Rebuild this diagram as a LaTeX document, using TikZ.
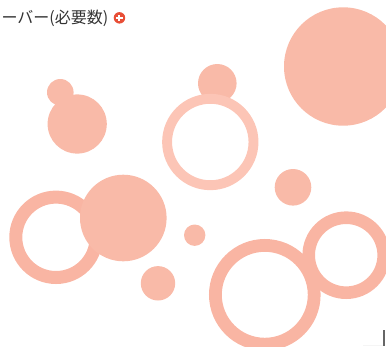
\documentclass[tikz,border=0pt]{standalone}
\usepackage{fontspec}
\usepackage{xcolor}
\usetikzlibrary{positioning}
\newfontfamily\jpfont{Noto Sans CJK JP}
\definecolor{bubblefill}{HTML}{F9BAA8}
\definecolor{ringlight}{HTML}{FCC5B6}
\definecolor{ringdark}{HTML}{F9B5A3}
\definecolor{plusred}{HTML}{E84E36}
\definecolor{labelgray}{HTML}{333333}
\tikzset{
	bubble/.style={fill=bubblefill, draw=none},
	ring/.style={draw=ringdark, line width=#1},
	lightring/.style={draw=ringlight, line width=#1},
	label/.style={font=\jpfont\fontsize{16}{17}\selectfont, text=labelgray, inner sep=0pt}
}

\begin{document}
\begin{tikzpicture}[x=1pt, y=-1pt]
	\useasboundingbox (0,0) rectangle (386,346);
	\node[label, anchor=base east] (title) at (108.5,23) {ーバー(必要数)};
	\node[circle, fill=plusred, minimum size=11.5pt, inner sep=0pt, right=5pt of title.east] (plus) {};
	\draw[white, line width=2pt] ([xshift=-3.3pt]plus.center) -- ([xshift=3.3pt]plus.center);
	\draw[white, line width=2pt] ([yshift=-3.3pt]plus.center) -- ([yshift=3.3pt]plus.center);
	\fill[bubble] (343.2,66.5) circle (59.2);
	\fill[bubble] (60.3,92.3) circle (13.3);
	\fill[bubble] (77.2,124) circle (29.6);
	\fill[bubble] (217.3,83.3) circle (19.3);
	\draw[lightring=9.9pt] (210.3,142) circle (43.2);
	\fill[bubble] (293,187.3) circle (18.3);
	\draw[ring=13pt] (56,237.3) circle (40.2);
	\fill[bubble] (123.3,218) circle (43.3);
	\fill[bubble] (194.7,235.2) circle (10.7);
	\fill[bubble] (158,283.3) circle (17.2);
	\draw[ring=12.6pt] (346.2,255.2) circle (37.5);
	\draw[ring=12.8pt] (264.8,294.8) circle (49.4);
	\draw[gray!8, line width=0.8pt] (363,345) -- (383,345);
	\draw[gray!80!black, line width=1.5pt] (384,330) -- (384,346);
\end{tikzpicture}
\end{document}
